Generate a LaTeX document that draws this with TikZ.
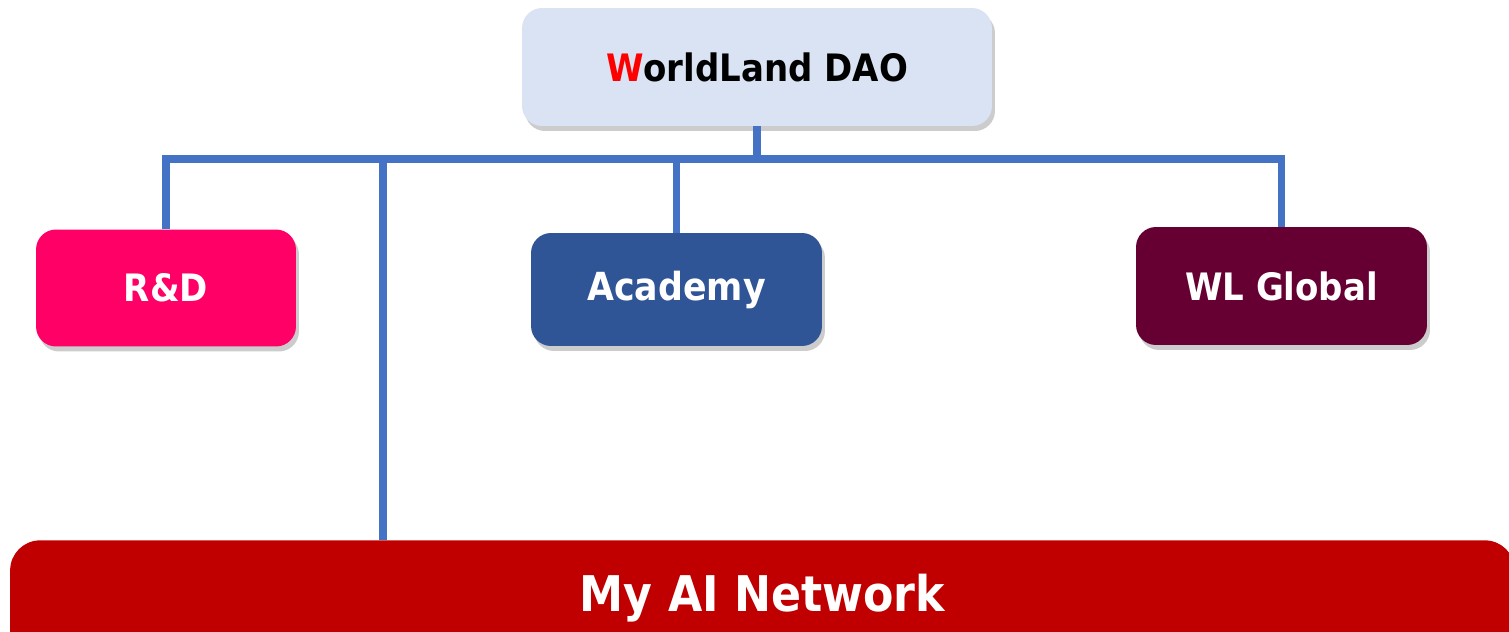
\documentclass[tikz,border=0pt]{standalone}
\usepackage{fontspec}
\setmainfont{DejaVu Sans Condensed}
\usetikzlibrary{shadows}
\definecolor{daofill}{HTML}{DAE3F3}
\definecolor{rdfill}{HTML}{FF0066}
\definecolor{acadfill}{HTML}{2F5597}
\definecolor{wlfill}{HTML}{660033}
\definecolor{netfill}{HTML}{C00000}
\definecolor{linkblue}{HTML}{4472C4}
\begin{document}
\begin{tikzpicture}[x=0.02cm,y=-0.02cm,
    unit/.style={rounded corners=0.4cm, inner sep=0pt, align=center,
      font=\bfseries\fontsize{21.5}{25}\selectfont,
      drop shadow={shadow xshift=0.06cm, shadow yshift=-0.1cm, opacity=0.4}},
    link/.style={draw=linkblue, line width=4pt}]
  \useasboundingbox (0,0) rectangle (1509,632);
  % top node
  \node[unit, fill=daofill, minimum width=9.4cm, minimum height=2.36cm]
    (dao) at (757,67) {\textcolor{red}{W}orldLand DAO};
  % second row
  \node[unit, fill=rdfill, text=white, minimum width=5.2cm, minimum height=2.34cm]
    (rd) at (166,288) {R\&D};
  \node[unit, fill=acadfill, text=white, minimum width=5.82cm, minimum height=2.26cm,
    font=\bfseries\fontsize{22}{26}\selectfont]
    (acad) at (676.5,289.5) {Academy};
  \node[unit, fill=wlfill, text=white, minimum width=5.82cm, minimum height=2.36cm]
    (wl) at (1281.5,286) {WL Global};
  % network bar
  \node[fill=netfill, text=white, rounded corners=0.6cm, anchor=north,
    font=\bfseries\fontsize{28}{33}\selectfont,
    minimum width=30.1cm, text height=0.72cm, text depth=1.6cm, inner ysep=0.7cm]
    (net) at (762.5,540) {My AI Network};
  % connectors
  \coordinate (bus) at (757,159);
  \coordinate (tap) at (383,159);
  \draw[link] (dao.south) -- (bus);
  \draw[link] (rd.north) |- (bus) -| (wl.north);
  \draw[link] (acad.north) -- (acad.north |- bus);
  \draw[link] (tap) -- (tap |- net.north);
\end{tikzpicture}
\end{document}
